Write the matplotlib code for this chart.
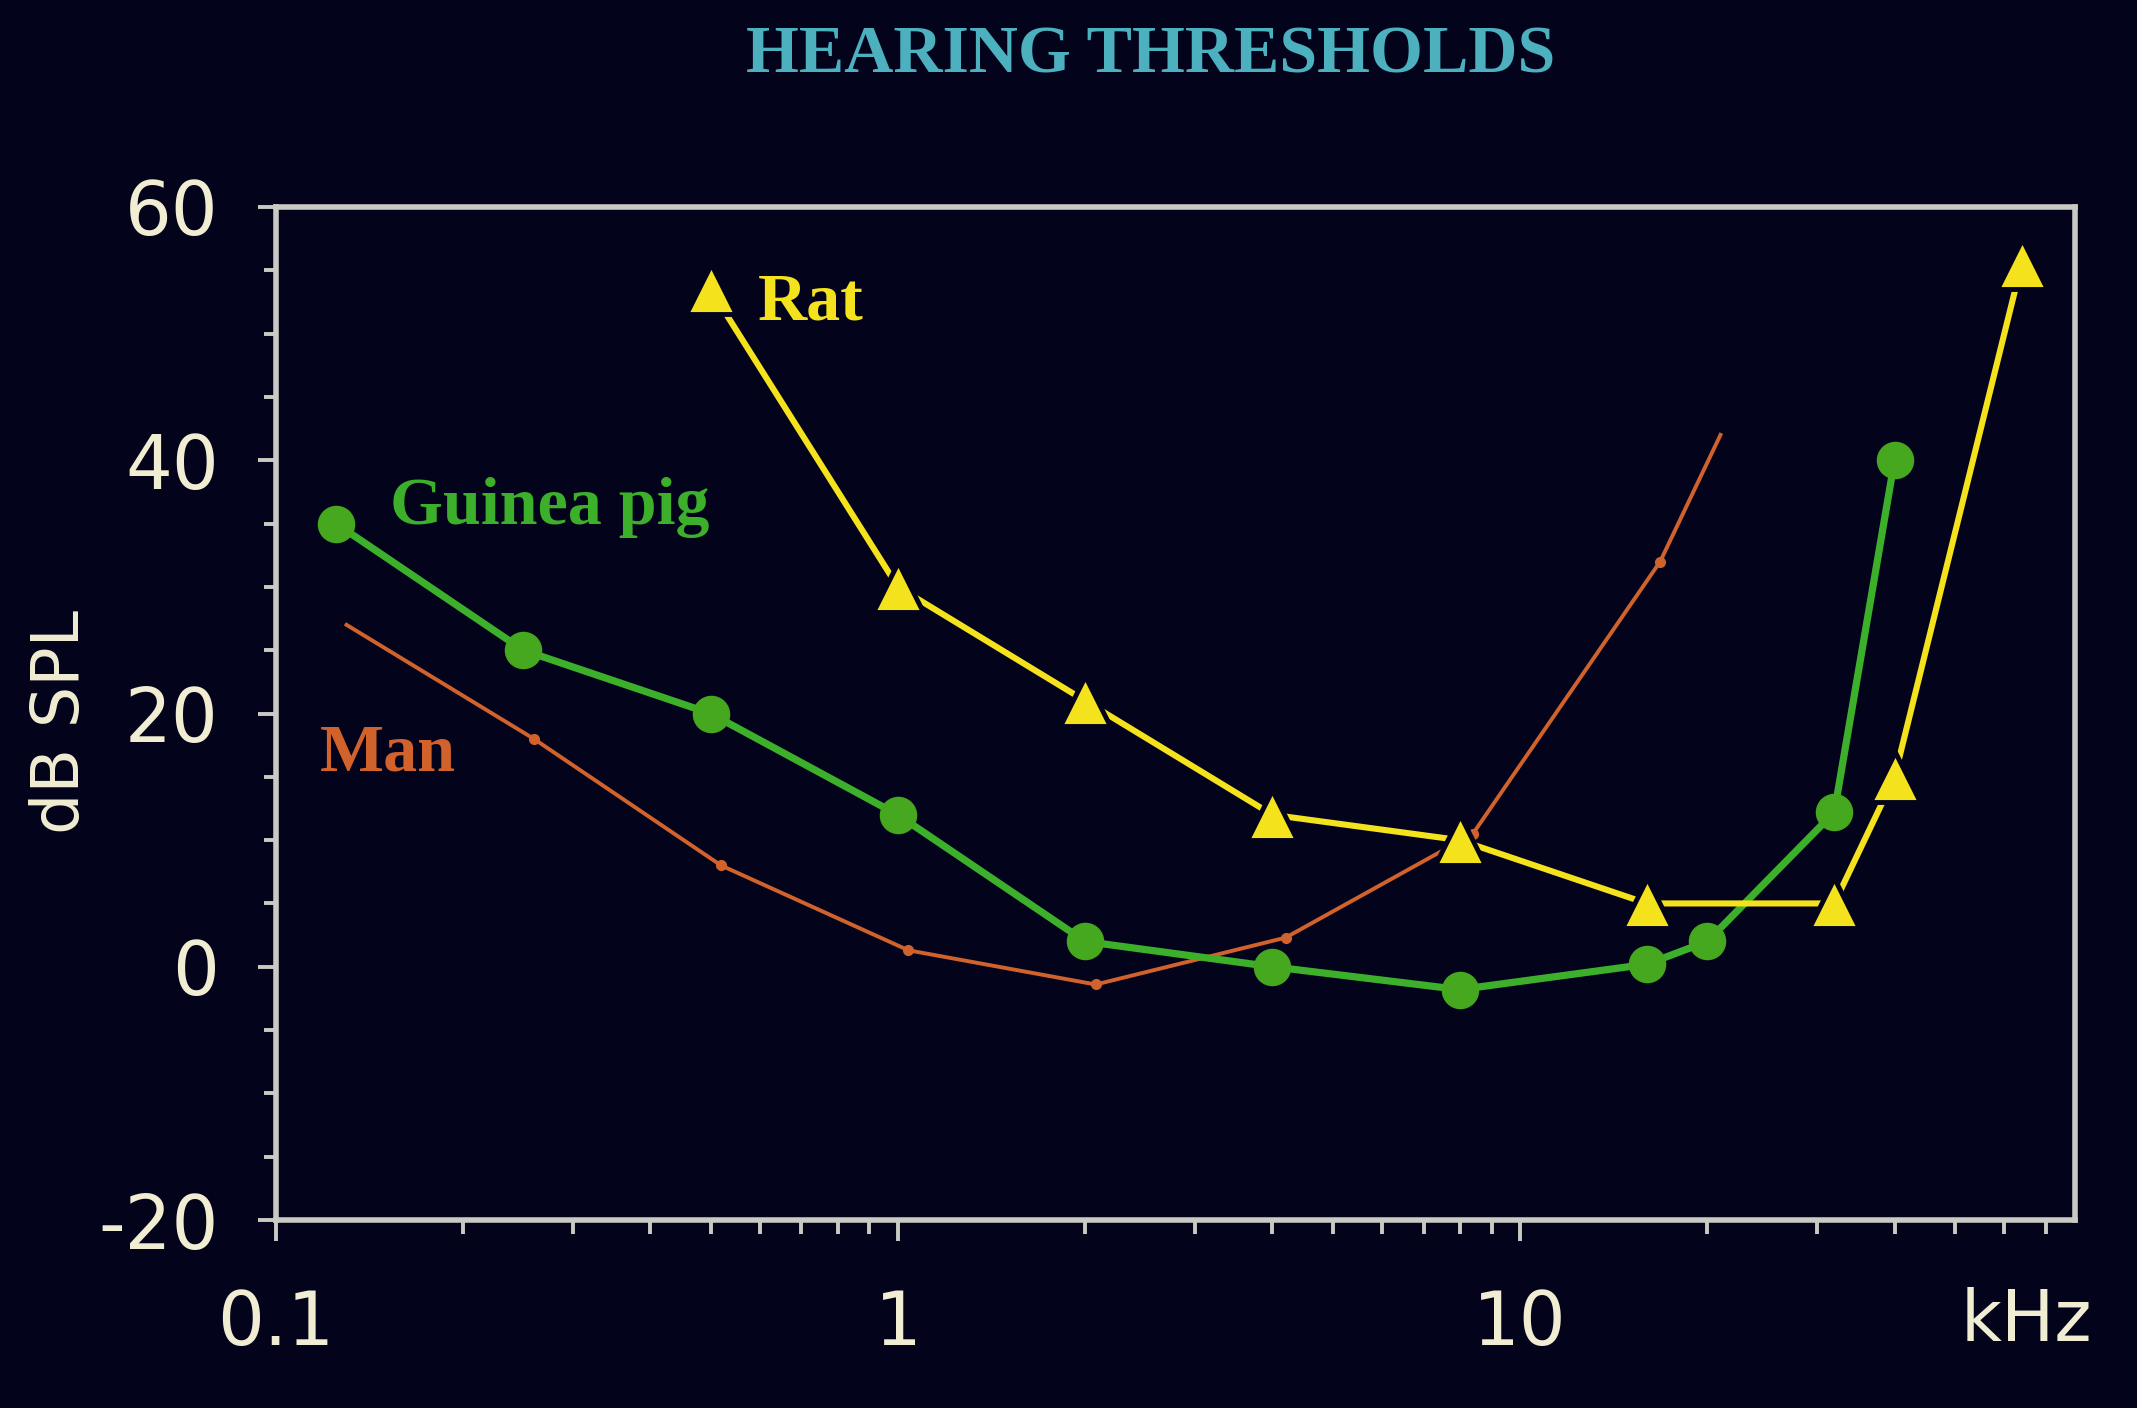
import numpy as np
import matplotlib
matplotlib.use("Agg")
import matplotlib.pyplot as plt
from matplotlib.ticker import FixedLocator, NullFormatter, FixedFormatter

plt.rcParams["axes.unicode_minus"] = False

# frequencies in kHz, thresholds in dB SPL
freq_gp = [0.125, 0.25, 0.5, 1, 2, 4, 8, 16, 20, 32, 40]
db_gp = [35, 25, 20, 12, 2, 0, -1.8, 0.2, 2, 12.2, 40]

freq_rat = [0.5, 1, 2, 4, 8, 16, 32, 40, 64]
db_rat = [53.5, 30, 21, 12, 10, 5, 5, 15, 55.5]

freq_man = [0.13, 0.26, 0.52, 1.04, 2.08, 4.2, 8.4, 16.8, 21]
db_man = [27, 18, 8, 1.3, -1.4, 2.3, 10.5, 32, 42]

x_ticks = [0.1, 1, 10]
x_ticklabels = ["0.1", "1", "10"]
y_ticks = [-20, 0, 20, 40, 60]

bg = "#03031c"
frame = "#cacac4"
txt = "#f1edd3"
teal = "#4cb0bf"
green = "#3cb02a"
yellow = "#f4e31c"
orange = "#d2622c"

fig = plt.figure(figsize=(21.37, 14.08), dpi=100, facecolor=bg)
ax = fig.add_axes([0.129, 0.1335, 0.842, 0.7195], facecolor=bg)

ax.plot(freq_man, db_man, color=orange, lw=2.8, marker="o", ms=7,
        markevery=list(range(1, len(freq_man) - 1)), zorder=2)
ax.plot(freq_gp, db_gp, color=green, lw=5.2, marker="o", ms=26,
        mfc="#45a81f", mec="#45a81f", zorder=3)
ax.plot(freq_rat, db_rat, color=yellow, lw=4.4, marker="^", ms=36,
        mfc=yellow, mec=bg, mew=3.5, zorder=4)

ax.set_xscale("log")
ax.set_xlim(0.1, 78)
ax.set_ylim(-20, 60)

ax.xaxis.set_major_locator(FixedLocator(x_ticks))
ax.xaxis.set_major_formatter(FixedFormatter(x_ticklabels))
ax.xaxis.set_minor_locator(FixedLocator(
    [m * d for d in [0.1, 1, 10] for m in range(2, 10)]))
ax.xaxis.set_minor_formatter(NullFormatter())
ax.yaxis.set_major_locator(FixedLocator(y_ticks))
ax.yaxis.set_minor_locator(FixedLocator(np.arange(-20, 61, 5)))

for s in ax.spines.values():
    s.set_color(frame)
    s.set_linewidth(4)

ax.tick_params(axis="both", which="both", color=frame, width=2.8,
               labelcolor=txt, labelsize=53)
ax.tick_params(axis="y", which="major", length=13, pad=28)
ax.tick_params(axis="y", which="minor", length=9)
ax.tick_params(axis="x", which="major", length=15, pad=34)
ax.tick_params(axis="x", which="minor", length=10)

ax.text(0.973, -0.10, "kHz", transform=ax.transAxes, ha="center",
        va="center", fontsize=51, color=txt)

serif = "Liberation Serif"
ax.text(0.596, 52.4, "Rat", color=yellow, fontsize=49, family=serif,
        fontweight="bold", va="center")
ax.text(0.1525, 36.3, "Guinea pig", color=green, fontsize=49, family=serif,
        fontweight="bold", va="center")
ax.text(0.1177, 16.8, "Man", color=orange, fontsize=49, family=serif,
        fontweight="bold", va="center")

fig.text(0.0286, 0.487, "dB SPL", rotation=90, ha="center", va="center",
         fontsize=47, color=txt)
fig.text(0.5386, 0.960, "HEARING THRESHOLDS", ha="center", va="center",
         fontsize=49, family=serif, fontweight="bold", color=teal)

fig.savefig("out.png", dpi=100, facecolor=bg)
